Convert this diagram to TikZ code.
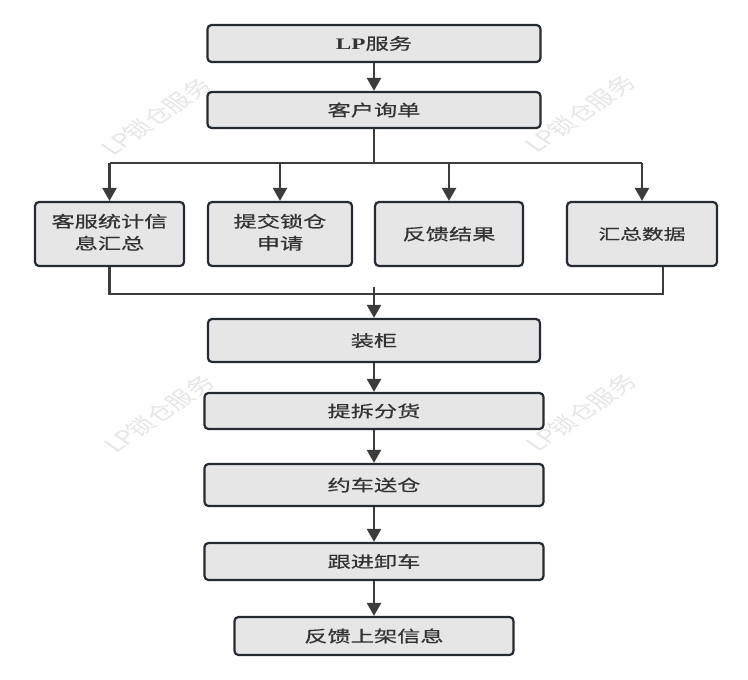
\documentclass[tikz,border=0pt]{standalone}
\usepackage{fontspec}
\usepackage{graphicx}
\newfontfamily\cjk[FakeBold=0.5]{Noto Sans CJK SC}
\newfontfamily\cjkwm{Noto Sans CJK SC}
\newfontfamily\latserif{Liberation Serif}
\usetikzlibrary{arrows.meta,calc}
\definecolor{boxfill}{HTML}{E6E6E6}
\definecolor{boxline}{HTML}{262B31}
\definecolor{connc}{HTML}{3C3C3C}
\definecolor{txt}{HTML}{333333}
\definecolor{wm}{HTML}{E6E6E6}
\newcommand\sx[1]{\scalebox{1.45}[1]{#1}}
\newcommand\twol[2]{\begin{tabular}{@{}c@{}}#1\\#2\end{tabular}}
\begin{document}
\begin{tikzpicture}[x=1pt,y=-1pt,
  box/.style={draw=boxline, line width=2.2pt, fill=boxfill, rounded corners=4pt,
    inner sep=0pt, text=txt, font=\cjk\fontsize{16}{22}\selectfont},
  wmark/.style={text=wm, font=\cjkwm\fontsize{19}{19}\selectfont, inner sep=0pt},
  conn/.style={draw=connc, line width=2.4pt},
  arr/.style={conn, -{Triangle[width=14pt,length=13pt]}}]
\useasboundingbox (0,0) rectangle (748,680);
\fill[white] (0,0) rectangle (748,680);
% watermarks
\node[wmark, shift={(156,117)}, xscale=1.45, rotate=45, transform shape] (w1) at (0,0) {LP锁仓服务};
\node[wmark, shift={(580,114)}, xscale=1.45, rotate=45, transform shape] (w2) at (0,0) {LP锁仓服务};
\node[wmark, shift={(159,414)}, xscale=1.45, rotate=45, transform shape] (w3) at (0,0) {LP锁仓服务};
\node[wmark, shift={(581,413)}, xscale=1.45, rotate=45, transform shape] (w4) at (0,0) {LP锁仓服务};
% main chain
\node[box, minimum width=333pt, minimum height=37pt] (n1) at (374,43.5) {\sx{{\latserif\bfseries LP}服务}};
\node[box, minimum width=333pt, minimum height=36pt] (n2) at (374,110) {\sx{客户询单}};
% row
\node[box, minimum width=149pt, minimum height=64pt] (r1) at (109.5,234) {\sx{\twol{客服统计信}{息汇总}}};
\node[box, minimum width=144pt, minimum height=64pt] (r2) at (280,234) {\sx{\twol{提交锁仓}{申请}}};
\node[box, minimum width=148pt, minimum height=64pt] (r3) at (449,234) {\sx{反馈结果}};
\node[box, minimum width=150pt, minimum height=64pt, font=\cjk\fontsize{15}{20}\selectfont] (r4) at (642,234) {\sx{汇总数据}};
% lower chain
\node[box, minimum width=332pt, minimum height=43pt] (n3) at (374,340.5) {\sx{装柜}};
\node[box, minimum width=339pt, minimum height=36pt] (n4) at (374,411) {\sx{提拆分货}};
\node[box, minimum width=339pt, minimum height=42pt] (n5) at (374,485) {\sx{约车送仓}};
\node[box, minimum width=339pt, minimum height=37pt] (n6) at (374,561.5) {\sx{跟进卸车}};
\node[box, minimum width=279pt, minimum height=38pt] (n7) at (374,636) {\sx{反馈上架信息}};
% connectors
\coordinate (sp) at (374,163);
\coordinate (mR) at (663,294);
\coordinate (mc) at (374,287);
\draw[arr] (n1.south) -- (n2.north);
\draw[conn] (n2.south) -- (sp);
\draw[conn] (r1.north |- sp) -- (r4.north |- sp);
\draw[arr] (r1.north |- sp) -- (r1.north);
\draw[arr] (r2.north |- sp) -- (r2.north);
\draw[arr] (r3.north |- sp) -- (r3.north);
\draw[arr] (r4.north |- sp) -- (r4.north);
\draw[conn] (r1.south) |- (mR) -- (mR |- r4.south);
\draw[arr] (mc) -- (n3.north);
\draw[arr] (n3.south) -- (n4.north);
\draw[arr] (n4.south) -- (n5.north);
\draw[arr] (n5.south) -- (n6.north);
\draw[arr] (n6.south) -- (n7.north);
\end{tikzpicture}
\end{document}
